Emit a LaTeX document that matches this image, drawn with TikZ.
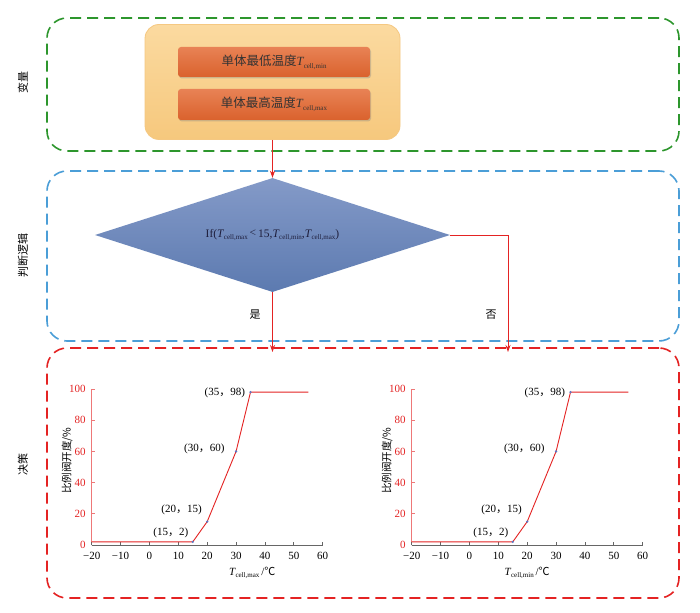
\documentclass[tikz,border=0pt]{standalone}
\usepackage{fontspec}
\setmainfont{Liberation Serif}
\newfontfamily\cjk{Noto Sans CJK SC}
\usetikzlibrary{shapes.geometric,arrows.meta,shadows}
\definecolor{grn}{RGB}{45,150,45}
\definecolor{blu}{RGB}{75,158,215}
\definecolor{rd}{RGB}{228,35,35}
\definecolor{axred}{RGB}{238,120,120}
\definecolor{orlight}{RGB}{251,218,160}
\definecolor{orlight2}{RGB}{246,200,125}
\definecolor{orborder}{RGB}{245,200,130}
\definecolor{ortop}{RGB}{232,130,85}
\definecolor{orbot}{RGB}{218,98,45}
\definecolor{dtop}{RGB}{132,154,200}
\definecolor{dbot}{RGB}{92,122,176}
\definecolor{ptblue}{RGB}{90,120,200}
\newcommand\Tsub[1]{{\itshape T}\kern0.3pt\raisebox{-0.45ex}{\fontsize{7}{8}\selectfont #1}}
\newcommand\fc{{\cjk ，}}
\tikzset{
  frame/.style={draw, dashed, line width=1.6pt, dash pattern=on 11pt off 6pt, rounded corners=20pt, inner sep=0pt},
  outerbox/.style={draw=orborder, line width=0.8pt, rounded corners=14pt, top color=orlight, bottom color=orlight2, inner sep=0pt},
  innerbox/.style={rounded corners=3pt, top color=ortop, bottom color=orbot, drop shadow={shadow xshift=1pt, shadow yshift=-1.5pt, opacity=0.35}, inner sep=0pt, font=\fontsize{12.5}{14}\selectfont, text=black!80},
  decision/.style={diamond, aspect=3.12, top color=dtop, bottom color=dbot, inner sep=0pt, minimum width=355pt, minimum height=114pt, font=\fontsize{11.5}{13}\selectfont, text={rgb,255:red,30;green,30;blue,60}},
  sidelabel/.style={rotate=90, font=\cjk\fontsize{11}{13}\selectfont},
  flow/.style={draw=rd, line width=1pt, -{Stealth[length=7pt,width=5pt]}},
  ticklab/.style={font=\fontsize{11}{13}\selectfont},
  ptlab/.style={font=\fontsize{11}{13}\selectfont},
  curve/.style={draw=rd, line width=0.9pt},
  answer/.style={font=\cjk\fontsize{11}{13}\selectfont},
}
\newcommand\plotchart[4]{%
\begin{scope}[shift={(#1,545)}, x=2.8875pt, y=1.56pt]
  \draw[axred, line width=0.7pt] (-20,0) -- (-20,100);
  \foreach \yy in {0,20,...,100} {
    \draw[axred, line width=0.7pt] (-20,\yy) -- ++(3pt,0pt);
    \node[ticklab, text=rd, anchor=east] at ([xshift=-2.5pt]-20,\yy) {\yy};
  }
  \draw[gray!80!black, line width=0.7pt] (-20,0) -- (60,0);
  \foreach \xx/\ll in {-20/−20,-10/−10,0/0,10/10,20/20,30/30,40/40,50/50,60/60} {
    \draw[gray!80!black, line width=0.7pt] (\xx,0) -- ++(0pt,3pt);
    \node[ticklab, anchor=north] at ([yshift=-4pt]\xx,0) {\ll};
  }
  \draw[curve] (-20,2) -- (15,2) -- (20,15) -- (30,60) -- (35,98) -- (55,98);
  \foreach \px/\py in {15/2,20/15,30/60,35/98} {
    \fill[ptblue] (\px,\py) circle (1.3pt);
  }
  \node[ptlab, anchor=south east] (#4a) at ([xshift=-1pt,yshift=1pt]15,2) {(15\fc 2)};
  \node[ptlab, anchor=south east] (#4b) at ([xshift=-2pt,yshift=3pt]20,15) {(20\fc 15)};
  \node[ptlab, anchor=east] (#4c) at ([xshift=-8pt,yshift=3pt]30,60) {(30\fc 60)};
  \node[ptlab, anchor=east] (#4d) at ([xshift=-2pt,yshift=-1pt]35,98) {(35\fc 98)};
  \node[rotate=90, font=\cjk\fontsize{10.5}{12}\selectfont] (#4y) at ([xshift=-24.5pt]-20,54) {比例阀开度/\%};
  \node[font=\fontsize{11}{13}\selectfont] (#4x) at ([xshift=#3]20,-18) {\Tsub{#2}\,/{\cjk ℃}};
\end{scope}}
\begin{document}
\begin{tikzpicture}[x=1pt,y=-1pt]
\useasboundingbox (0,0) rectangle (700,612);
\fill[white] (0,0) rectangle (700,612);
% frames
\node[frame, draw=grn, minimum width=632pt, minimum height=133pt] (f1) at (363,84.5) {};
\node[frame, draw=blu, minimum width=632pt, minimum height=170pt] (f2) at (363,256) {};
\node[frame, draw=rd, minimum width=632pt, minimum height=250pt] (f3) at (363,473) {};
\node[sidelabel] (l1) at (23,83) {变量};
\node[sidelabel] (l2) at (23,255) {判断逻辑};
\node[sidelabel] (l3) at (23,464) {决策};
% variables
\node[outerbox, minimum width=255pt, minimum height=115pt] (var) at (272.5,82) {};
\node[innerbox, minimum width=192pt, minimum height=30pt] (tmin) at (274,62) {{\cjk 单体最低温度}\Tsub{cell,min}};
\node[innerbox, minimum width=192pt, minimum height=31pt] (tmax) at (274,104.5) {{\cjk 单体最高温度}\Tsub{cell,max}};
% decision
\node[decision] (dec) at (272.5,235) {If(\Tsub{cell,max}\,\raisebox{0.1ex}{<}\,15,\Tsub{cell,min},\Tsub{cell,max})};
\coordinate (yesend) at (272.5,352);
\coordinate (corner) at (508,235);
\coordinate (noend) at (508,352);
\draw[flow] (var.south -| dec.north) -- (dec.north);
\draw[flow] (dec.south) -- (yesend);
\draw[flow] (dec.east) -- (corner) -- (noend);
\node[answer] (yes) at (255,315) {是};
\node[answer] (no) at (491,315) {否};
% charts
\plotchart{149.45}{cell,max}{45pt}{pa}
\plotchart{469.45}{cell,min}{0pt}{pb}
\end{tikzpicture}
\end{document}
